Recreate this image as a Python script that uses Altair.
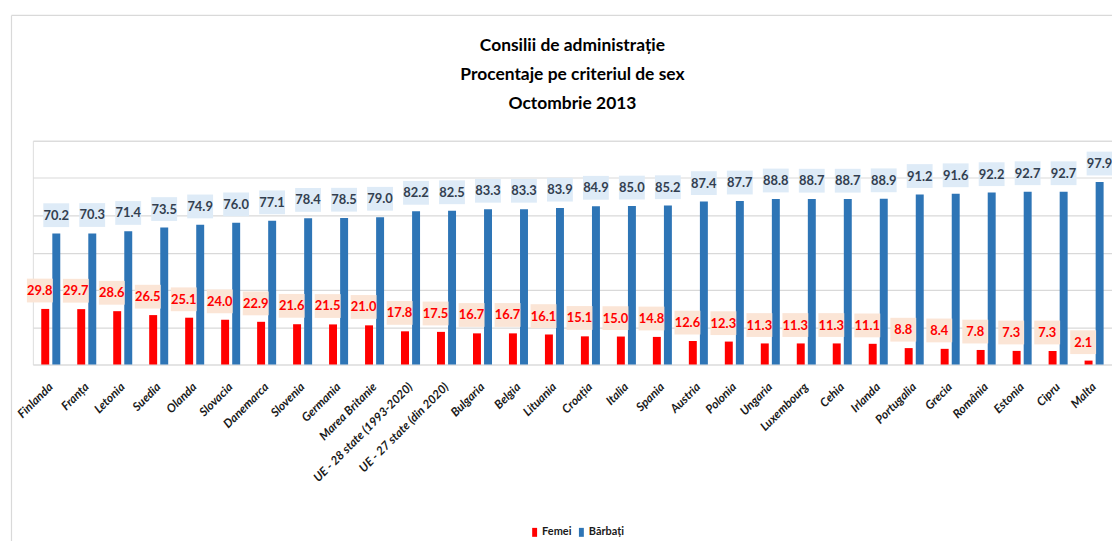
import altair as alt
import pandas as pd

countries = ["Finlanda", "Franța", "Letonia", "Suedia", "Olanda", "Slovacia", "Danemarca",
             "Slovenia", "Germania", "Marea Britanie", "UE - 28 state (1993-2020)",
             "UE - 27 state (din 2020)", "Bulgaria", "Belgia", "Lituania", "Croația", "Italia",
             "Spania", "Austria", "Polonia", "Ungaria", "Luxembourg", "Cehia", "Irlanda",
             "Portugalia", "Grecia", "România", "Estonia", "Cipru", "Malta"]
femei = [29.8, 29.7, 28.6, 26.5, 25.1, 24.0, 22.9, 21.6, 21.5, 21.0, 17.8, 17.5, 16.7, 16.7,
         16.1, 15.1, 15.0, 14.8, 12.6, 12.3, 11.3, 11.3, 11.3, 11.1, 8.8, 8.4, 7.8, 7.3, 7.3, 2.1]
barbati = [70.2, 70.3, 71.4, 73.5, 74.9, 76.0, 77.1, 78.4, 78.5, 79.0, 82.2, 82.5, 83.3, 83.3,
           83.9, 84.9, 85.0, 85.2, 87.4, 87.7, 88.8, 88.7, 88.7, 88.9, 91.2, 91.6, 92.2, 92.7,
           92.7, 97.9]
series_names = ["Femei", "Bărbați"]
series_colors = ["#FF0000", "#2E75B6"]
title_lines = ["Consilii de administrație", "Procentaje pe criteriul de sex", "Octombrie 2013"]

rows = []
for i, c in enumerate(countries):
    rows.append({"tara": c, "serie": "Femei", "valoare": femei[i]})
    rows.append({"tara": c, "serie": "Bărbați", "valoare": barbati[i]})
df = pd.DataFrame(rows)
df["eticheta"] = df["valoare"].map(lambda v: f"{v:.1f}")

FONT = "Lato, Carlito, Calibri, sans-serif"
W, H = 1085, 225

x = alt.X("tara:N", sort=countries,
          scale=alt.Scale(paddingInner=0.385, paddingOuter=0.19),
          axis=alt.Axis(title=None, labelAngle=-45, labelAlign="right", labelBaseline="middle",
                        labelPadding=20, labelFont=FONT, labelFontSize=12, labelFontWeight="bold",
                        labelFontStyle="italic", labelColor="#1a1a1a", ticks=False, domain=False,
                        grid=False, labelOverlap=False))
y = alt.Y("valoare:Q", scale=alt.Scale(domain=[0, 120], nice=False),
          axis=alt.Axis(title=None, labels=False, ticks=False, domain=False, grid=True,
                        gridColor="#d9d9d9", gridWidth=1.2, values=[0, 20, 40, 60, 80, 100, 120]))

base = alt.Chart(df)

bars = base.mark_bar(width=8).encode(
    x=x, y=y,
    xOffset=alt.XOffset("serie:N", sort=series_names,
                        scale=alt.Scale(domain=series_names, paddingInner=0, paddingOuter=0)),
    color=alt.Color("serie:N", sort=series_names,
                    scale=alt.Scale(domain=series_names, range=series_colors),
                    legend=alt.Legend(title=None, orient="none", legendX=499, legendY=388,
                                      direction="horizontal",
                                      symbolType="M-0.55,-1H0.55V1H-0.55Z", symbolSize=81,
                                      symbolStrokeWidth=0, labelFont=FONT, labelFontSize=11,
                                      labelFontWeight="bold", labelColor="#1a1a1a",
                                      columnPadding=4, labelOffset=2)),
)

box_path = "M-1,-0.92H1V0.92H-1Z"
red = base.transform_filter(alt.datum.serie == "Femei")
blue = base.transform_filter(alt.datum.serie == "Bărbați")

red_box = red.mark_point(shape=box_path, size=676, filled=True, fill="#FBE5D6", opacity=1,
                         strokeWidth=0, xOffset=-11, yOffset=-18.5).encode(x=x, y=y)
blue_box = blue.mark_point(shape=box_path, size=676, filled=True, fill="#DEEBF7", opacity=1,
                           strokeWidth=0, xOffset=5.5, yOffset=-18.5).encode(x=x, y=y)
red_txt = red.mark_text(font=FONT, fontSize=13, fontWeight="bold", color="#FF0000",
                        align="center", baseline="middle", dx=-11, dy=-18).encode(
    x=x, y=y, text="eticheta:N")
blue_txt = blue.mark_text(font=FONT, fontSize=13, fontWeight="bold", color="#333F50",
                          align="center", baseline="middle", dx=5.5, dy=-18).encode(
    x=x, y=y, text="eticheta:N")

frame_src = alt.Chart(pd.DataFrame({"k": [0]}))
frame_top = frame_src.mark_rule(color="#d9d9d9", strokeWidth=1.2).encode(
    x=alt.value(-21.5), x2=alt.value(W + 30), y=alt.value(-126))
frame_left = frame_src.mark_rule(color="#d9d9d9", strokeWidth=1.2).encode(
    x=alt.value(-21.5), y=alt.value(-126), y2=alt.value(420))

chart = alt.layer(frame_top, frame_left, bars, red_box, blue_box, red_txt, blue_txt).properties(
    width=W, height=H,
    autosize=alt.AutoSizeParams(type="none"),
    padding={"left": 25, "top": 132, "right": 0, "bottom": 176},
    title=alt.TitleParams(text=title_lines, font=FONT, fontSize=17.5, fontWeight="bold",
                          color="#000000", anchor="middle", offset=0, dy=98, lineHeight=29),
).configure_view(stroke=None).configure(background="white")

chart.save("out.html", embed_options={"renderer": "svg", "actions": False})
